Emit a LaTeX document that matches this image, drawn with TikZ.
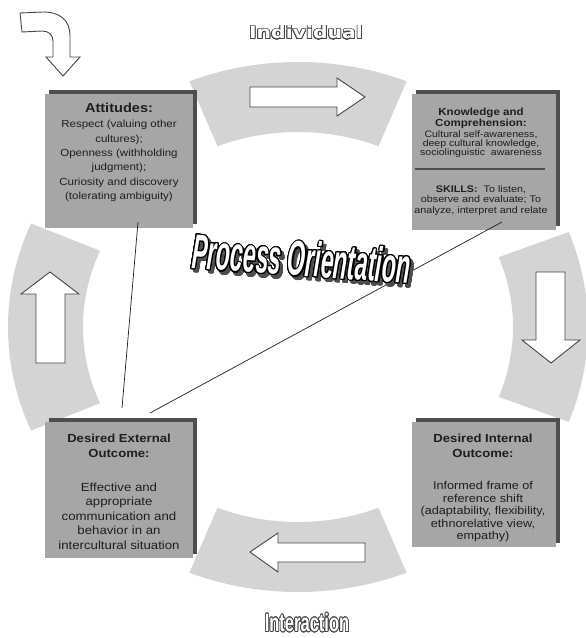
\documentclass[tikz,border=0pt]{standalone}
\usepackage{fontspec}
\setmainfont{Liberation Sans}[FakeStretch=1.12]
\newfontfamily\indfont{DejaVu Sans}[FakeStretch=1.2]
\newfontfamily\intfont{Liberation Sans}[FakeStretch=0.66]
\newfontfamily\pofont{Liberation Sans}[FakeStretch=0.47]
\usepackage[copies]{contour}
\contournumber{24}
\usetikzlibrary{shadows}
\definecolor{ringgray}{RGB}{212,212,212}
\definecolor{boxgray}{RGB}{166,166,166}
\definecolor{shadowgray}{RGB}{78,78,78}
\definecolor{txt}{RGB}{30,30,30}
\definecolor{arrowgray}{RGB}{70,70,70}
\newcommand\ringband[2]{%
  \fill[ringgray] ({298+290*cos(#1)},{327+265*sin(#1)})
    arc[start angle=#1, end angle=#2, x radius=290, y radius=265]
    -- ({298+215*cos(#2)},{327+195*sin(#2)})
    arc[start angle=#2, end angle=#1, x radius=215, y radius=195] -- cycle;}
\begin{document}
\begin{tikzpicture}[x=1pt,y=-1pt,
  boxbody/.style={fill=boxgray, inner sep=0pt, outer sep=0pt,
    general shadow={fill=shadowgray, shadow xshift=4pt, shadow yshift=4pt}},
  boxtext/.style={text=txt, align=center, inner sep=0pt},
  arrowshape/.style={fill=white, draw=arrowgray, line width=0.9pt, line join=miter},
  connector/.style={draw=txt, line width=0.7pt},
  sepline/.style={draw=shadowgray, line width=1.2pt}]
\useasboundingbox (0,0) rectangle (586,638);
% ring bands
\ringband{248}{292}
\ringband{-21}{21}
\ringband{68}{112}
\ringband{157}{203}
% boxes
\node[boxbody, minimum width=148pt, minimum height=134pt] (att) at (119,161) {};
\node[boxbody, minimum width=144pt, minimum height=136pt] (know) at (484,162) {};
\node[boxbody, minimum width=148pt, minimum height=136pt] (ext) at (119,490) {};
\node[boxbody, minimum width=144pt, minimum height=125pt] (int) at (484,484.5) {};
% box texts
\node[boxtext, font=\fontsize{13}{15}\selectfont\bfseries] (atth) at (119,108) {Attitudes:};
\node[boxtext, font=\fontsize{10.3}{14.4}\selectfont] (attb) at (119,161)
  {Respect (valuing other\\cultures);\\Openness (withholding\\judgment);\\Curiosity and discovery\\(tolerating ambiguity)};
\node[boxtext, font=\fontsize{10.3}{11}\selectfont\bfseries] (knowh) at (481,118.5)
  {Knowledge and\\Comprehension:};
\node[boxtext, font=\fontsize{9.4}{9}\selectfont] (knowb) at (481,144.5)
  {Cultural self-awareness,\\deep cultural knowledge,\\sociolinguistic\ \ awareness};
\coordinate (sepL) at (415,169);
\coordinate (sepR) at (545,169);
\draw[sepline] (sepL) -- (sepR);
\node[boxtext, font=\fontsize{9.6}{10.5}\selectfont] (skills) at (481,200.5)
  {\textbf{SKILLS:}\ \ To listen,\\observe and evaluate; To\\analyze, interpret and relate};
\node[boxtext, font=\fontsize{11.7}{15}\selectfont\bfseries] (exth) at (119,445.5)
  {Desired External\\Outcome:};
\node[boxtext, font=\fontsize{11.8}{14.5}\selectfont] (extb) at (119,516)
  {Effective and\\appropriate\\communication and\\behavior in an\\intercultural situation};
\node[boxtext, font=\fontsize{11.7}{15}\selectfont\bfseries] (inth) at (483,445.5)
  {Desired Internal\\Outcome:};
\node[boxtext, font=\fontsize{11.3}{12.5}\selectfont] (intb) at (483,512)
  {Informed frame of\\reference shift\\(adaptability, flexibility,\\ethnorelative view,\\empathy)};
% connecting lines
\coordinate (l1a) at (138,222);
\coordinate (l1b) at (122,408);
\coordinate (l2a) at (502,222);
\coordinate (l2b) at (150,413);
\draw[connector] (l1a) -- (l1b);
\draw[connector] (l2a) -- (l2b);
% block arrows
\draw[arrowshape] (20,13) -- (43,12) .. controls (60,12) and (70,20) .. (70,36) -- (70,57)
  -- (80,57) -- (63,76) -- (46,57) -- (53,57) -- (53,41)
  .. controls (53,35) and (49,31) .. (42,31) -- (22,32) -- cycle;
\draw[arrowshape] (250,87) -- (337,87) -- (337,78) -- (365,97) -- (337,116) -- (337,107) -- (250,107) -- cycle;
\draw[arrowshape] (36,363) -- (36,294) -- (21,294) -- (50,272) -- (79,294) -- (65,294) -- (65,363) -- cycle;
\draw[arrowshape] (536,272) -- (565,272) -- (565,340) -- (580,340) -- (551,363) -- (522,340) -- (536,340) -- cycle;
\draw[arrowshape] (365,543) -- (278,543) -- (278,533) -- (250,552) -- (278,572) -- (278,562) -- (365,562) -- cycle;
% labels
\contourlength{0.7pt}
\node[inner sep=0pt] (indiv) at (306,33)
  {\indfont\bfseries\fontsize{17}{17}\selectfont\contour{arrowgray}{\textcolor{white}{Individual}}};
\node[inner sep=0pt] (inter) at (307,623)
  {\intfont\bfseries\fontsize{25}{25}\selectfont\contour{arrowgray}{\textcolor{white}{Interaction}}};
\contourlength{1.1pt}
\node[inner sep=0pt, rotate=-4] (posh) at (304.5,262.5)
  {\pofont\bfseries\itshape\fontsize{49}{49}\selectfont\contour{shadowgray}{\textcolor{shadowgray}{Process Orientation}}};
\node[inner sep=0pt, rotate=-4] (po) at (301.5,259)
  {\pofont\bfseries\itshape\fontsize{49}{49}\selectfont\contour{black}{\textcolor{white}{Process Orientation}}};
\end{tikzpicture}
\end{document}
